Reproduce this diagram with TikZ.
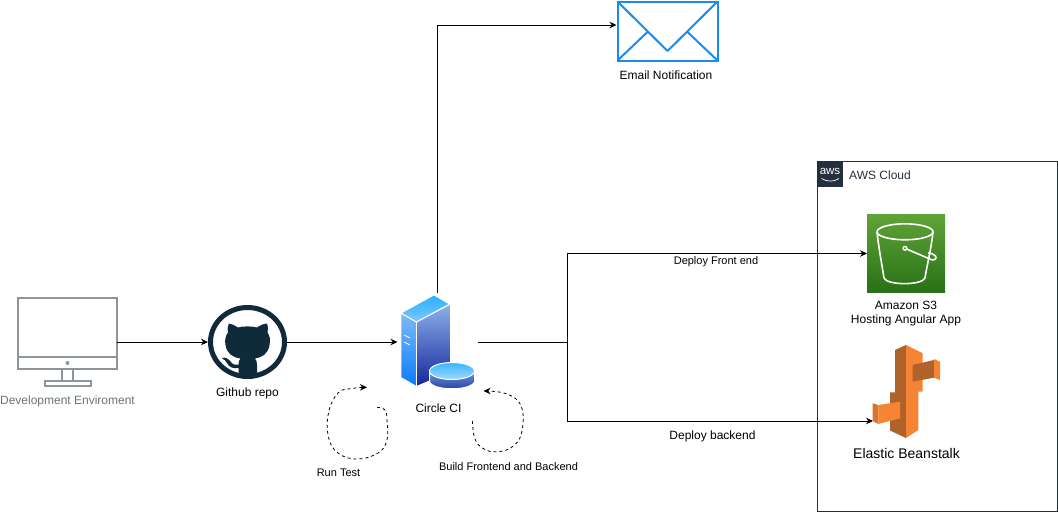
\documentclass[tikz,border=0pt]{standalone}
\usepackage{fontspec}
\setmainfont{Liberation Sans}
\usetikzlibrary{arrows.meta,calc,shapes.geometric}
\definecolor{monitorgray}{HTML}{8C9599}
\definecolor{devtext}{HTML}{6B7378}
\definecolor{ghdark}{HTML}{0F2A3A}
\definecolor{mailblue}{HTML}{1A8CF0}
\definecolor{awsdark}{HTML}{232F3E}
\definecolor{ebdark}{HTML}{B0622A}
\definecolor{ebmid}{HTML}{D9762E}
\definecolor{eborange}{HTML}{F58534}
\definecolor{s3top}{HTML}{60A337}
\definecolor{s3bot}{HTML}{277116}
\definecolor{srvlefttop}{HTML}{7DBBF5}
\definecolor{srvleftbot}{HTML}{0A7BFF}
\definecolor{srvrighttop}{HTML}{8DB0EA}
\definecolor{srvrightbot}{HTML}{14279A}
\definecolor{srvtoptop}{HTML}{2CAEFF}
\definecolor{srvtopbot}{HTML}{7CC8FF}
\definecolor{disktoptop}{HTML}{39B6FF}
\definecolor{disktopbot}{HTML}{A0D8FF}
\definecolor{diskbodytop}{HTML}{6F94DC}
\definecolor{diskbodybot}{HTML}{1F3A9E}
\tikzset{
  conn/.style={draw=black,line width=1pt,-{Stealth[length=7pt,width=6.5pt]}},
  connplain/.style={draw=black,line width=1pt},
  loopline/.style={draw=black,line width=0.8pt,dash pattern=on 3pt off 3pt},
  lbl/.style={font=\fontsize{12}{14}\selectfont,text=black,inner sep=0pt,align=center},
  lblsmall/.style={font=\fontsize{11}{13}\selectfont,text=black,inner sep=0pt,align=center},
  icon/.style={inner sep=0pt,outer sep=0pt,minimum width=#1},
  monline/.style={draw=monitorgray,line width=2pt},
  bucket/.style={draw=white,line width=1.6pt,line join=round},
  srvedge/.style={draw=white,line width=0.9pt,line join=round},
}
\begin{document}
\begin{tikzpicture}[x=1pt,y=-1pt]
\useasboundingbox (0,0) rectangle (1058,512);
% anchors and boxes
\node[icon=99pt,minimum height=90pt] (monitor) at (67.5,342) {};
\node[ellipse,draw=ghdark,fill=white,line width=5pt,inner sep=0pt,minimum width=74pt,minimum height=69pt,outer sep=2.5pt] (github) at (247.5,342) {};
\node[icon=80pt,minimum height=98pt] (server) at (437.5,342) {};
\node[draw=mailblue,line width=2pt,fill=white,minimum width=100pt,minimum height=59pt,inner sep=0pt,outer sep=1pt] (mail) at (667.5,31) {};
\node[draw=awsdark,line width=0.8pt,minimum width=240pt,minimum height=350pt,inner sep=0pt] (cloud) at (937.5,336.5) {};
\node[top color=s3top,bottom color=s3bot,minimum width=78pt,minimum height=78pt,inner sep=0pt,outer sep=0pt] (s3) at (906,253.5) {};
\node[icon=68pt,minimum height=93pt] (bean) at (906.5,391.5) {};
\coordinate (split) at (567.5,342);
\coordinate (beanin) at (873,421);
\coordinate (mailturn) at (437.5,25);

% monitor
\draw[monline] (18,297.5) rectangle (117,368.5);
\draw[monline] (18,357) -- (117,357);
\fill[monitorgray] (67.5,363) circle (2pt);
\draw[monline] (62,368) -- (62,381) (72.5,368) -- (72.5,381);
\draw[monline] (44.5,381) rectangle (90.5,386);

% github cat
\fill[ghdark] (229,323.5) .. controls (232,324) and (235,325.5) .. (238,327.5)
  .. controls (243,326) and (252,326) .. (257,327.5)
  .. controls (260,325.5) and (264,323.5) .. (267,323.5)
  .. controls (268,327) and (268.5,330) .. (267.5,332.5)
  .. controls (270,336) and (270.5,340) .. (269.5,345)
  .. controls (268,354) and (262,357.5) .. (255,358.5)
  .. controls (256.5,360) and (257,362) .. (257,365)
  -- (257,377) .. controls (251,378.5) and (244,378.5) .. (238.5,377)
  -- (238.5,368) .. controls (233,369) and (229,367) .. (227,363)
  .. controls (226,361) and (224,359) .. (222,358.5)
  .. controls (224,356) and (229,359) .. (231,362)
  .. controls (233,365) and (236,365) .. (238.5,364.5)
  .. controls (238.5,362) and (239,360) .. (240.5,358.5)
  .. controls (233,357.5) and (227,354) .. (225.5,345)
  .. controls (224.5,340) and (225.5,336) .. (228,332.5)
  .. controls (227,330) and (227.5,327) .. (229,323.5) -- cycle;

% server
\shade[top color=srvrighttop,bottom color=srvrightbot,srvedge]
  (416.5,322) -- (450.5,304) -- (450.5,372) -- (416.5,386.5) -- cycle;
\shade[top color=srvlefttop,bottom color=srvleftbot,srvedge]
  (401,313) -- (416.5,322) -- (416.5,386.5) -- (401,377.5) -- cycle;
\shade[top color=srvtoptop,bottom color=srvtopbot,srvedge]
  (401,313) -- (434,295) -- (449.5,304) -- (416.5,322) -- cycle;
\draw[white,line width=0.8pt] (404,335) -- (410,338) (404,342) -- (410,345);
\shade[top color=diskbodytop,bottom color=diskbodybot,draw=white,line width=1pt]
  (429.5,371) -- (429.5,382) .. controls (434,391) and (470,391) .. (474.5,382) -- (474.5,371) -- cycle;
\shade[top color=disktoptop,bottom color=disktopbot,draw=white,line width=1pt]
  (452,371) ellipse (22.5pt and 8.5pt);

% mail
\draw[mailblue,line width=2pt,line join=round] (617.5,1.5) -- (667.5,51) -- (717.5,1.5);
\draw[mailblue,line width=2pt] (617.5,60.5) -- (648,31.5) (717.5,60.5) -- (687,31.5);

% connectors
\draw[conn] (monitor.east) -- (github.west);
\draw[conn] (github.east) -- (server.west);
\draw[conn] (server.north) -- (mailturn) -- (mail.west |- mailturn);
\draw[connplain] (server.east) -- (split);
\draw[conn] (split) |- (s3.west);
\draw[conn] (split) |- (beanin);

% loops
\draw[loopline,-{Stealth[length=7pt,width=6.5pt]}] plot[smooth,tension=0.7] coordinates
  {(377,407.3) (385,410) (387,420) (387,440) (378,453) (357,459) (338,453) (328.5,437) (328.5,413) (338,393) (352,388.5) (367,387.3)};
\draw[loopline,-{Stealth[length=7pt,width=6.5pt]}] plot[smooth,tension=0.7] coordinates
  {(472.5,421) (475,439) (484,449) (497,451.7) (512,447) (521.5,433) (521.5,407) (507,394) (483.5,391)};

% AWS logo
\fill[awsdark] (817.5,161.5) rectangle (843,187);
\node[font=\fontsize{11.5}{11.5}\selectfont,text=white,inner sep=0pt] (awslogo) at (830,171) {aws};
\draw[white,line width=0.7pt] (821.5,178.5) .. controls (827,182) and (834,182) .. (839,178.5);

% S3 bucket
\draw[bucket] (877,232) .. controls (879,250) and (882,265) .. (884,278)
  .. controls (887,285.5) and (922,285.5) .. (925,278)
  .. controls (927,265) and (931,250) .. (933,232);
\draw[bucket] (905,231.8) ellipse (28pt and 8pt);
\draw[white,line width=1.6pt] (905,248.3) -- (931,259.5)
  .. controls (935,261) and (937,258) .. (935.5,256) .. controls (934,253.5) and (931,253.5) .. (928,253);
\fill[white] (905,248.3) circle (2.6pt);
\fill[s3top!60!s3bot] (905,248.3) circle (1.1pt);

% Beanstalk
\fill[ebdark] (895,350) -- (906,345) -- (906,438) -- (890,430.5) -- (890,392.3) -- (895,392.3) -- cycle;
\fill[eborange] (906,345) -- (922.7,353.3) -- (922.7,391.7) -- (918.3,391.7) -- (918.3,430) -- (906,438) -- cycle;
\fill[ebdark] (912.7,365) -- (934,360) -- (934,377.7) -- (912.7,381.7) -- cycle;
\fill[eborange] (934,359) -- (940,361.7) -- (940,380) -- (934,377.7) -- cycle;
\fill[ebmid] (872.7,403.3) -- (878.3,405) -- (878.3,424) -- (872.7,421) -- cycle;
\fill[eborange] (878.3,405) -- (900,401.7) -- (900,418.3) -- (878.3,424) -- cycle;

% labels
\node[lbl,text=devtext] (devlbl) at (67.5,401.5) {Development Enviroment};
\node[lbl] (ghlbl) at (247.5,393) {Github repo};
\node[lbl] (cilbl) at (438.5,408) {Circle CI};
\node[lbl] (maillbl) at (666,75) {Email Notification};
\node[lbl,text=awsdark,anchor=west] (cloudlbl) at (849,175) {AWS Cloud};
\node[lbl] (s3lbl) at (906,314) {Amazon S3\\Hosting Angular App};
\node[font=\fontsize{14}{16}\selectfont,inner sep=0pt] (eblbl) at (906.5,453) {Elastic Beanstalk};
\node[lblsmall] (frontlbl) at (716,262) {Deploy Front end};
\node[lbl] (backlbl) at (712.5,436.5) {Deploy backend};
\node[lblsmall] (runlbl) at (338.5,472.5) {Run Test};
\node[lblsmall] (buildlbl) at (508.5,466.5) {Build Frontend and Backend};
\end{tikzpicture}
\end{document}
